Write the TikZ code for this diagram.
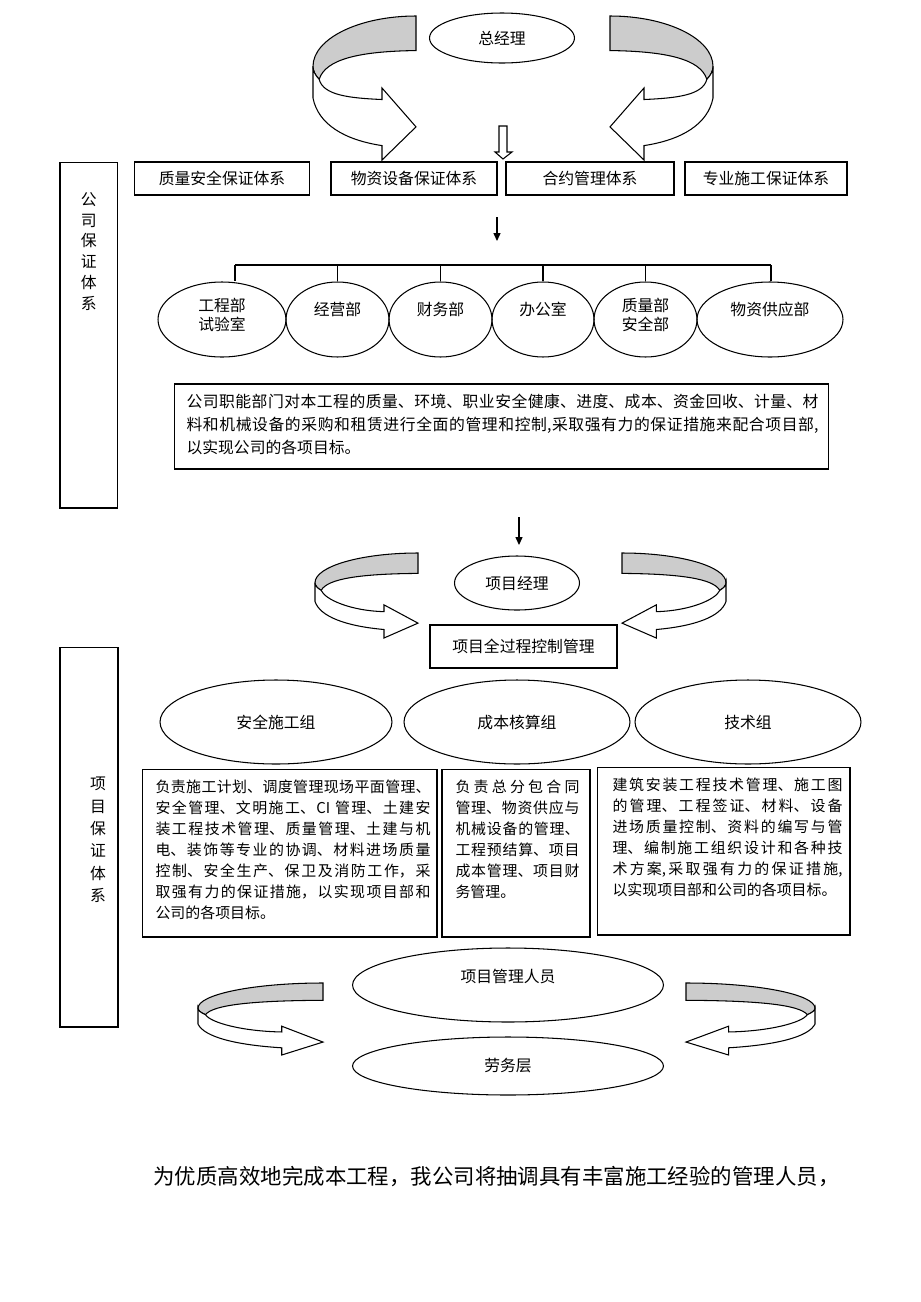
\documentclass[tikz,border=0pt]{standalone}
\usepackage{fontspec}
\setmainfont{Noto Sans CJK SC}
\XeTeXlinebreaklocale "zh"
\XeTeXlinebreakskip = 0pt plus 1pt
\usetikzlibrary{shapes.geometric,arrows.meta}
\definecolor{ribbon}{gray}{0.8}
\tikzset{
  pics/curl/.style={code={
    \filldraw[fill=ribbon] (1,0) -- (1,0.24)
      .. controls (0.45,0.245) and (0.12,0.3) .. (0.06,0.44)
      .. controls (0.02,0.41) and (0,0.38) .. (0,0.35)
      .. controls (0,0.157) and (0.448,0) .. (1,0) -- cycle;
    \filldraw[fill=white] (0,0.35) -- (0,0.57)
      .. controls (0.05,0.75) and (0.3,0.86) .. (0.67,0.9)
      -- (0.67,1) -- (1,{(1+#1)/2+0.02}) -- (0.67,#1) -- (0.67,{#1+0.08})
      .. controls (0.35,{#1+0.07}) and (0.1,0.55) .. (0.06,0.44)
      .. controls (0.02,0.41) and (0,0.38) .. (0,0.35) -- cycle;
  }}
}
\begin{document}
\begin{tikzpicture}[x=0.02cm,y=-0.02cm,line width=0.6pt,
  lbl/.style={font=\fontsize{9}{11.3}\selectfont,align=center,inner sep=0pt},
  oval/.style={ellipse,draw,inner sep=0pt,lbl},
  dept/.style={oval,minimum width=#1,minimum height=1.5cm},
  sysbox/.style={draw,minimum height=0.66cm,lbl},
  panel/.style={draw,inner sep=0pt},
  para/.style={align=justify,inner sep=0pt,anchor=north west,font=\fontsize{8.5}{11.9}\selectfont},
  arr/.style={-{Triangle[length=4.5pt,width=4pt]}}]

\useasboundingbox (0,0) rectangle (920,1302);

% company level
\pic[xscale=103,yscale=144] at (313,16) {curl=0.5};
\pic[xscale=-103,yscale=144] at (713,16) {curl=0.5};
\node[oval,minimum width=2.9cm,minimum height=1cm] (zjl) at (502,38) {总经理};
\draw[fill=white] (499,126) -- (507,126) -- (507,152) -- (512,152) -- (503,159) -- (495,152) -- (499,152) -- cycle;

\node[sysbox,minimum width=3.5cm] (zlaq) at (222,178.5) {质量安全保证体系};
\node[sysbox,minimum width=3.32cm] (wzsb) at (414,178.5) {物资设备保证体系};
\node[sysbox,minimum width=3.36cm] (hygl) at (590,178.5) {合约管理体系};
\node[sysbox,minimum width=3.24cm] (zysg) at (766,178.5) {专业施工保证体系};

\coordinate (d1s) at (497,217);
\coordinate (d1e) at (497,241);
\draw[arr] (d1s) -- (d1e);

\node[dept=2.56cm,label={[lbl,yshift=0.09cm]center:工程部\\试验室}] (gcb) at (222,319.5) {};
\node[dept=2.06cm,label={[lbl,yshift=0.21cm]center:经营部}] (jyb) at (337.5,319.5) {};
\node[dept=2.06cm,label={[lbl,yshift=0.21cm]center:财务部}] (cwb) at (440.5,319.5) {};
\node[dept=2.04cm,label={[lbl,yshift=0.21cm]center:办公室}] (bgs) at (543,319.5) {};
\node[dept=2.06cm,label={[lbl,yshift=0.09cm]center:质量部\\安全部}] (zab) at (645.5,319.5) {};
\node[dept=2.92cm,label={[lbl,yshift=0.21cm]center:物资供应部}] (wzgy) at (770,319.5) {};

\coordinate (busl) at (235,265);
\coordinate (busr) at (771,265);
\draw (busl) -- (busr);
\draw (busl) -- (busl |- gcb.north);
\foreach \d in {jyb,cwb,bgs,zab}
  \draw (\d.north |- busl) -- (\d.north);
\draw (busr) -- (busr |- wzgy.north);

\node[panel,minimum width=13.1cm,minimum height=1.7cm] (gszn) at (501.5,426.5) {};
\node[para,text width=12.64cm,font=\fontsize{9}{13}\selectfont] (gsznt) at (186,394) {公司职能部门对本工程的质量、环境、职业安全健康、进度、成本、资金回收、计量、材\linebreak
料和机械设备的采购和租赁进行全面的管理和控制,采取强有力的保证措施来配合项目部,\linebreak
以实现公司的各项目标。};

\node[panel,minimum width=1.15cm,minimum height=6.92cm] (gsbz) at (88.75,335) {};
\node[lbl,font=\fontsize{9}{11.9}\selectfont] (gsbzt) at (88.75,251.5) {公\\司\\保\\证\\体\\系};

% project level
\coordinate (d2s) at (519,517);
\coordinate (d2e) at (519,545);
\draw[arr] (d2s) -- (d2e);
\pic[xscale=103,yscale=85] at (315,553) {curl=0.61};
\pic[xscale=-104,yscale=85] at (726,553) {curl=0.61};
\node[oval,minimum width=2.5cm,minimum height=1.08cm] (xmjl) at (517,583) {项目经理};
\node[sysbox,minimum width=3.74cm,minimum height=0.86cm] (xmqg) at (523.5,646.5) {项目全过程控制管理};

\node[oval,minimum width=4.64cm,minimum height=1.68cm] (aqsg) at (276,722) {安全施工组};
\node[oval,minimum width=4.52cm,minimum height=1.68cm] (cbhs) at (517,722) {成本核算组};
\node[oval,minimum width=4.52cm,minimum height=1.68cm] (jsz) at (748,722) {技术组};

\node[panel,minimum width=5.9cm,minimum height=3.36cm] (aqzz) at (289.5,853) {};
\node[para,text width=5.5cm] (aqzzt) at (155,779.5) {负责施工计划、调度管理现场平面管理、\linebreak
安全管理、文明施工、CI 管理、土建安\linebreak
装工程技术管理、质量管理、土建与机\linebreak
电、装饰等专业的协调、材料进场质量\linebreak
控制、安全生产、保卫及消防工作，采\linebreak
取强有力的保证措施，以实现项目部和\linebreak
公司的各项目标。};
\node[panel,minimum width=2.96cm,minimum height=3.36cm] (cbzz) at (516,853) {};
\node[para,text width=2.48cm] (cbzzt) at (455,779.5) {负责总分包合同\linebreak
管理、物资供应与\linebreak
机械设备的管理、\linebreak
工程预结算、项目\linebreak
成本管理、项目财\linebreak
务管理。};
\node[panel,minimum width=5.06cm,minimum height=3.36cm] (jszz) at (723.5,851) {};
\node[para,text width=4.6cm] (jszzt) at (612,777.5) {建筑安装工程技术管理、施工图\linebreak
的管理、工程签证、材料、设备\linebreak
进场质量控制、资料的编写与管\linebreak
理、编制施工组织设计和各种技\linebreak
术方案,采取强有力的保证措施,\linebreak
以实现项目部和公司的各项目标。};

\node[panel,minimum width=1.16cm,minimum height=7.6cm] (xmbz) at (89,837) {};
\node[lbl,font=\fontsize{9}{12.75}\selectfont] (xmbzt) at (98,840) {项\\目\\保\\证\\体\\系};

\pic[xscale=125,yscale=72] at (198,983) {curl=0.6};
\pic[xscale=-129,yscale=72] at (815,983) {curl=0.6};
\node[oval,minimum width=6.22cm,minimum height=1.48cm,label={[lbl,yshift=0.17cm]center:项目管理人员}] (glry) at (508,985) {};
\node[oval,minimum width=6.22cm,minimum height=1.16cm] (lwc) at (508,1066) {劳务层};

\node[anchor=west,inner sep=0pt,font=\fontsize{12.2}{14}\selectfont] (yuanze) at (153,1177) {为优质高效地完成本工程，我公司将抽调具有丰富施工经验的管理人员，};
\end{tikzpicture}
\end{document}
